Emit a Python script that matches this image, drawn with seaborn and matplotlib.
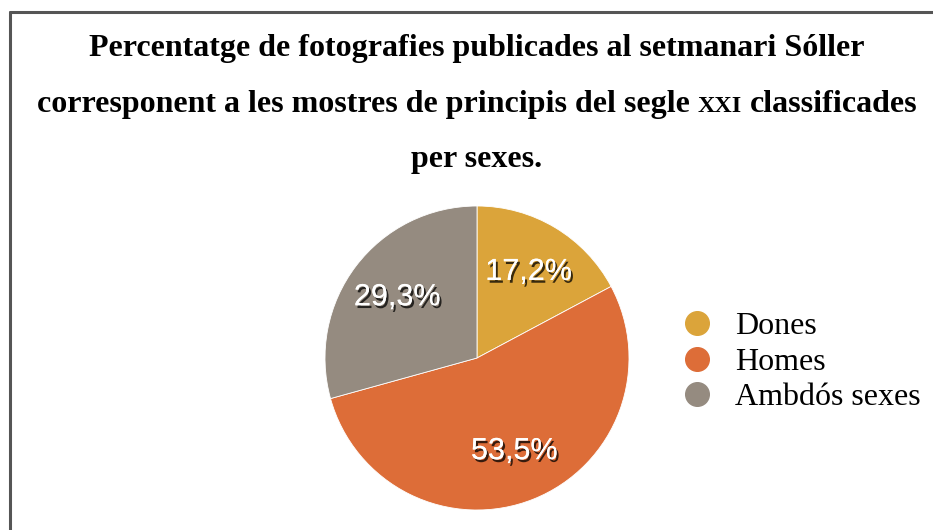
import numpy as np
import pandas as pd
import matplotlib
matplotlib.use("Agg")
import matplotlib.pyplot as plt
import matplotlib.patheffects as pe
from matplotlib.lines import Line2D
import seaborn as sns

# data
categories = ["Dones", "Homes", "Ambdós sexes"]
percentages = [17.2, 53.5, 29.3]
colors = ["#DBA43A", "#DD6D38", "#958B80"]

title_line1 = "Percentatge de fotografies publicades al setmanari Sóller"
title_line2 = [("corresponent a les mostres de principis del segle", False),
               ("XXI", True),
               ("classificades", False)]
title_line3 = "per sexes."

sns.set_theme(style="white")
plt.rcParams['font.family'] = ['Liberation Serif', 'DejaVu Serif']
plt.rcParams['text.color'] = 'black'

W, H = 933, 530
fig = plt.figure(figsize=(W / 100, H / 100), dpi=100)
fig.patch.set_facecolor("white")

# pie axes, placed in pixels
cx, cy, r = 477, 358, 152
ax = fig.add_axes([(cx - r) / W, (H - cy - r) / H, 2 * r / W, 2 * r / H])
pal = sns.color_palette(colors)

df = pd.DataFrame({"cat": categories, "pct": percentages})
wedges, texts, autotexts = ax.pie(
    df.pct, colors=pal, startangle=90, counterclock=False,
    autopct=lambda p: f"{p:.1f}%".replace(".", ","), pctdistance=0.66,
    wedgeprops=dict(linewidth=0.6, edgecolor="white"))
ax.set_xlim(-1, 1)
ax.set_ylim(-1, 1)
for t in autotexts:
    t.set_color("white")
    t.set_fontfamily(["Liberation Sans", "DejaVu Sans"])
    t.set_fontsize(22)
    t.set_path_effects([pe.withSimplePatchShadow(offset=(1.5, -2), shadow_rgbFace="black", alpha=0.75),
                        pe.Normal()])

# legend with circle markers
lsize = 23
handles = [Line2D([0], [0], marker="o", linestyle="none", markersize=17,
                  markerfacecolor=c, markeredgecolor=c) for c in pal]
fig.legend(handles, categories, loc="center left",
           bbox_to_anchor=(681 / W, 1 - 362 / H), frameon=False,
           fontsize=lsize, handletextpad=0.69, labelspacing=0.2,
           borderpad=0, borderaxespad=0, handlelength=1.0)

# title, three lines
tsize = 23
fig.text(cx / W, 1 - 56 / H, title_line1, ha="center", va="baseline",
         fontsize=tsize, fontweight="bold")
fig.text(cx / W, 1 - 167 / H, title_line3, ha="center", va="baseline",
         fontsize=tsize, fontweight="bold")

# second line built from pieces so XXI can be small caps
renderer = fig.canvas.get_renderer()
pieces = []
for s, small in title_line2:
    t = fig.text(0, 1 - 112 / H, s, ha="left", va="baseline",
                 fontsize=tsize * 0.75 if small else tsize, fontweight="bold")
    pieces.append(t)
widths = [t.get_window_extent(renderer).width for t in pieces]
gap = 0.25 * tsize * 100 / 72
total = sum(widths) + gap * (len(pieces) - 1)
x = 477 - total / 2
for t, w in zip(pieces, widths):
    t.set_x(x / W)
    x += w + gap

# frame lines (left and top only)
fig.add_artist(Line2D([10 / W, 10 / W], [0, 1 - 11.5 / H], transform=fig.transFigure,
                      color="#555555", linewidth=2.2))
fig.add_artist(Line2D([10 / W, 1], [1 - 11.5 / H, 1 - 11.5 / H], transform=fig.transFigure,
                      color="#555555", linewidth=2.2))

fig.savefig("out.png", dpi=100)
